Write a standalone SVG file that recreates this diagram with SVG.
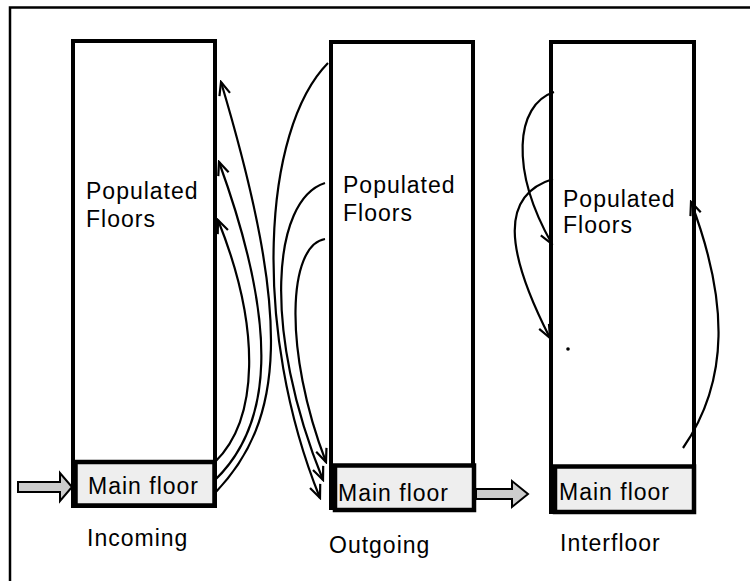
<svg xmlns="http://www.w3.org/2000/svg" width="750" height="581" viewBox="0 0 750 581">
<style>
.col{fill:#fff;stroke:#000;stroke-width:4}
.mf{fill:#eeeeee;stroke:#000;stroke-width:4.5}
.t{font-family:"Liberation Sans",Arial,sans-serif;font-size:23px;letter-spacing:1px;fill:#000}
.c{fill:none;stroke:#000;stroke-width:2.2}
.blk{fill:#cccccc;stroke:#000;stroke-width:2;stroke-linejoin:miter}
</style>
<defs>
<marker id="ah" viewBox="-14 -8 16 16" markerWidth="16" markerHeight="16" refX="0" refY="0" orient="auto" markerUnits="userSpaceOnUse">
<path d="M-13,-5.5 L0,0 L-13,5.5" fill="none" stroke="#000" stroke-width="2.2"/>
</marker>
</defs>
<rect x="0" y="0" width="750" height="581" fill="#fff"/>
<path id="frame" d="M10,590 L10,7.5 L760,7.5" fill="none" stroke="#000" stroke-width="2.5"/>

<g id="col-incoming">
<rect class="col" x="73" y="41" width="142" height="465"/>
<rect class="mf" x="75.5" y="462" width="139" height="43.5"/>
<text class="t" x="86" y="199">Populated</text>
<text class="t" x="86" y="227">Floors</text>
<text class="t" x="88" y="494">Main floor</text>
<text class="t" x="87" y="546">Incoming</text>
</g>

<g id="col-outgoing">
<rect class="col" x="331" y="42" width="142" height="466"/>
<rect class="mf" x="335" y="465.5" width="139" height="44.5"/>
<text class="t" x="343" y="193">Populated</text>
<text class="t" x="343" y="221">Floors</text>
<text class="t" x="338" y="501">Main floor</text>
<text class="t" x="329" y="553">Outgoing</text>
</g>

<g id="col-interfloor">
<rect class="col" x="551" y="42" width="143" height="470"/>
<rect class="mf" x="555" y="466.5" width="139" height="45.5"/>
<text class="t" x="563" y="207">Populated</text>
<text class="t" x="563" y="233">Floors</text>
<text class="t" x="559" y="500">Main floor</text>
<text class="t" x="560" y="551">Interfloor</text>
<circle cx="568" cy="349" r="1.8" fill="#000"/>
</g>

<g id="connectors">
<polygon class="blk" points="18,482 60,482 60,473 72,487 60,501 60,492 18,492"/>
<polygon class="blk" points="476,489 512,489 512,481 528,494 512,507 512,499 476,499"/>
<path class="c" d="M215,493 C285,420 292,320 221,82" marker-end="url(#ah)"/>
<path class="c" d="M215,480 C272,425 280,330 219,162" marker-end="url(#ah)"/>
<path class="c" d="M215,462 C258,420 262,330 218,220" marker-end="url(#ah)"/>
<path class="c" d="M328,63 C262,130 252,330 320,498" marker-end="url(#ah)"/>
<path class="c" d="M325,183 C272,200 262,330 323,480" marker-end="url(#ah)"/>
<path class="c" d="M325,239 C288,245 283,350 326,462" marker-end="url(#ah)"/>
<path class="c" d="M554,92 C515,105 510,170 552,244" marker-end="url(#ah)"/>
<path class="c" d="M553,179 C500,195 505,250 550,338" marker-end="url(#ah)"/>
<path class="c" d="M683,448 C730,380 728,300 691,202" marker-end="url(#ah)"/>
</g>
</svg>
